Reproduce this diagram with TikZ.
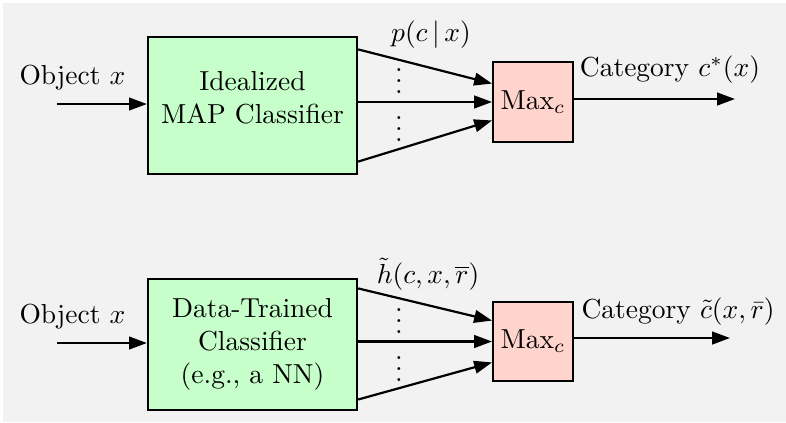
\documentclass[tikz,border=0pt]{standalone}
\usepackage{amsmath}
\usepackage{tikz}
\usetikzlibrary{arrows.meta}

\definecolor{bggray}{HTML}{F2F2F2}
\definecolor{clsgreen}{HTML}{C6FFC9}
\definecolor{maxpink}{HTML}{FFD4CC}

\tikzset{
  clsbox/.style={draw, thick, fill=clsgreen, align=center, minimum width=76pt, inner sep=0pt},
  maxbox/.style={draw, thick, fill=maxpink, minimum width=29pt, minimum height=29pt, inner sep=0pt},
  flow/.style={thick, -{Triangle[length=6.5pt,width=4.6pt]}},
}

\begin{document}
\begin{tikzpicture}[x=0.3636pt, y=-0.3636pt]
            \fill[bggray] (3,3) rectangle (786,422);
            \useasboundingbox (0,0) rectangle (786,422);
            % upper row: idealized classifier
            \node[clsbox, minimum height=49.8pt] (clsA) at (252.5,105.5) {Idealized\\MAP Classifier\\[-6pt]};
            \node[maxbox] (maxA) at (533,102) {Max$_c$};
            \coordinate (inA) at (57,104);
            \coordinate (outA) at (735,99);
            \node (objA) at (72.5,78) {Object $x$};
            \node (probA) at (431,35) {$p(c\,|\,x)$};
            \node (catA) at (670,70) {Category $c^*(x)$};
            \node (dotsA1) at (399,73) {$\vdots$};
            \node (dotsA2) at (399,121) {$\vdots$};
            \draw[flow] (inA) -- (clsA.west |- inA);
            \draw[flow] ([yshift=20.4pt]clsA.east) -- ([yshift=6.7pt]maxA.west);
            \draw[flow] (clsA.east |- maxA.west) -- (maxA.west);
            \draw[flow] ([yshift=-20.4pt]clsA.east) -- ([yshift=-6.7pt]maxA.west);
            \draw[flow] (maxA.east |- outA) -- (outA);
            % lower row: data-trained classifier
            \node[clsbox, minimum height=47.6pt] (clsB) at (252.5,344.5) {Data-Trained\\Classifier\\(e.g., a NN)};
            \node[maxbox] (maxB) at (533,341.5) {Max$_c$};
            \coordinate (inB) at (57,343);
            \coordinate (outB) at (730,338);
            \node (objB) at (72.5,317) {Object $x$};
            \node (scoreB) at (428,274) {$\tilde{h}(c,x,\overline{r})$};
            \node (catB) at (678,312) {Category $\tilde{c}(x,\bar{r})$};
            \node (dotsB1) at (399,313) {$\vdots$};
            \node (dotsB2) at (399,361) {$\vdots$};
            \draw[flow] (inB) -- (clsB.west |- inB);
            \draw[flow] ([yshift=20.4pt]clsB.east) -- ([yshift=7.6pt]maxB.west);
            \draw[flow] (clsB.east |- maxB.west) -- (maxB.west);
            \draw[flow] ([yshift=-20pt]clsB.east) -- ([yshift=-7.6pt]maxB.west);
            \draw[flow] (maxB.east |- outB) -- (outB);
        \end{tikzpicture}
\end{document}
